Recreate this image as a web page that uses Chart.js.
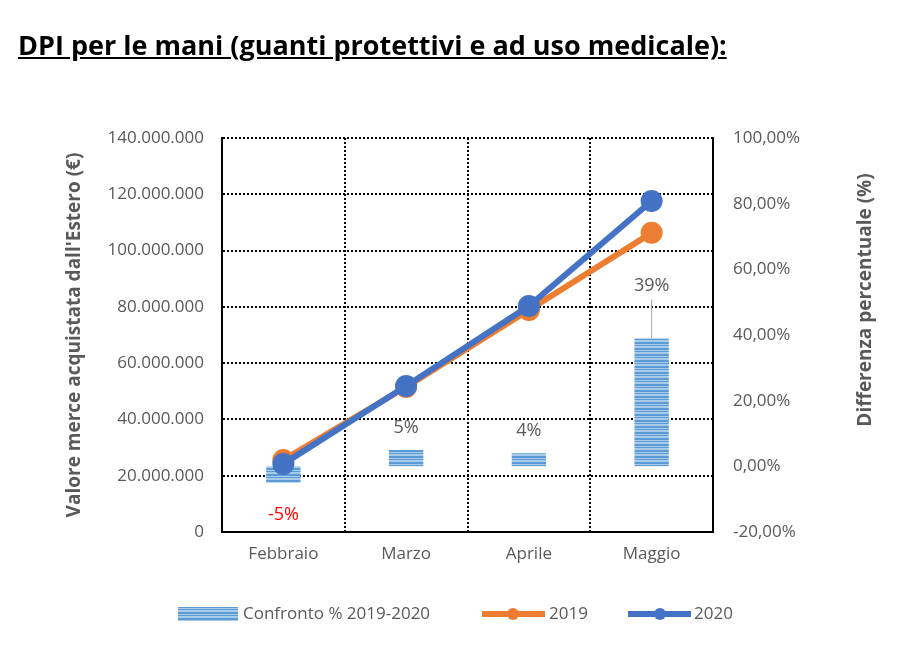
<!DOCTYPE html>
<html><head><meta charset="utf-8">
<script src="https://cdn.jsdelivr.net/npm/chart.js@4"></script>
<style>
body{margin:0;background:#fff;width:900px;height:666px;overflow:hidden;position:relative;font-family:"Open Sans","Liberation Sans",sans-serif}
#t{position:absolute;left:18px;top:26px;font-size:27px;font-weight:bold;text-decoration:underline;color:#000;white-space:nowrap}
#c{position:absolute;left:0;top:0}
</style></head><body>
<canvas id="c" width="900" height="666"></canvas>
<div id="t">DPI per le mani (guanti protettivi e ad uso medicale):</div>
<script>
const categories=["Febbraio","Marzo","Aprile","Maggio"];
const diffPct=[-5,5,4,39];
const diffLabels=["-5%","5%","4%","39%"];
const v2019=[25600000,51500000,78900000,106300000];
const v2020=[24200000,51900000,80300000,117600000];
const leftTicks=[0,20000000,40000000,60000000,80000000,100000000,120000000,140000000];

Chart.defaults.font.family='"Open Sans","Liberation Sans",sans-serif';
const pc=document.createElement('canvas');pc.width=6;pc.height=6;
const px=pc.getContext('2d');px.fillStyle='#a9cbea';px.fillRect(0,0,6,6);px.fillStyle='#5b9bd5';px.fillRect(0,0,6,2);px.fillRect(0,3,6,1);
const ctx0=document.getElementById('c').getContext('2d');
const pattern=ctx0.createPattern(pc,'repeat');
const grey='#595959';
const FF='"Open Sans","Liberation Sans",sans-serif';
const fmt=v=>v.toLocaleString('de-DE');
const fmtP=v=>v.toFixed(2).replace('.',',')+'%';

const plug={id:'p',afterDatasetsDraw(ch){
 const c=ch.ctx,m=ch.getDatasetMeta(0),ys=ch.scales.y1;
 c.save();c.font='18px '+FF;c.textAlign='center';c.textBaseline='middle';
 m.data.forEach((b,i)=>{
  const v=diffPct[i];let y;
  if(v<0){y=ys.getPixelForValue(v)+32;c.fillStyle='#ff0000';}
  else{c.fillStyle=grey;y=ys.getPixelForValue(v)-(i==3?52:22);}
  if(i==3){c.strokeStyle='#a6a6a6';c.lineWidth=1;c.beginPath();c.moveTo(b.x,y+13);c.lineTo(b.x,ys.getPixelForValue(v));c.stroke();}
  c.fillText(diffLabels[i],b.x,y);
 });
 c.restore();
},afterDraw(ch){
 const c=ch.ctx;c.save();
 c.fillStyle=pattern;c.fillRect(178,607,60,14);
 c.lineWidth=6;c.strokeStyle='#ed7d31';c.beginPath();c.moveTo(482,614);c.lineTo(545,614);c.stroke();
 c.fillStyle='#ed7d31';c.beginPath();c.arc(513,614,6,0,7);c.fill();
 c.strokeStyle='#4472c4';c.beginPath();c.moveTo(628,614);c.lineTo(691,614);c.stroke();
 c.fillStyle='#4472c4';c.beginPath();c.arc(660,614,6,0,7);c.fill();
 c.font='17px '+FF;c.fillStyle=grey;c.textBaseline='middle';
 c.fillText('Confronto % 2019-2020',243,614);c.fillText('2019',549,614);c.fillText('2020',694,614);
 c.font='bold 19px '+FF;c.textAlign='center';
 c.translate(75,335);c.rotate(-Math.PI/2);c.fillText("Valore merce acquistata dall'Estero (€)",0,0);
 c.setTransform(1,0,0,1,0,0);
 c.translate(866,300);c.rotate(-Math.PI/2);c.fillText('Differenza percentuale (%)',0,0);
 c.restore();
}};

new Chart(ctx0,{
 data:{labels:categories,datasets:[
  {type:'bar',label:'Confronto % 2019-2020',data:diffPct,yAxisID:'y1',backgroundColor:pattern,barPercentage:0.28,categoryPercentage:1,order:3},
  {type:'line',label:'2019',data:v2019,yAxisID:'y',borderColor:'#ed7d31',backgroundColor:'#ed7d31',borderWidth:6,pointRadius:8,pointHoverRadius:8,order:2},
  {type:'line',label:'2020',data:v2020,yAxisID:'y',borderColor:'#4472c4',backgroundColor:'#4472c4',borderWidth:6,pointRadius:8,pointHoverRadius:8,order:1}
 ]},
 options:{responsive:false,animation:false,
  layout:{padding:{top:138,left:0,right:0,bottom:0}},
  plugins:{legend:{display:false},tooltip:{enabled:false}},
  scales:{
   x:{grid:{color:'#000',lineWidth:2,borderDash:[2,2],drawTicks:false,offset:true},border:{display:true,color:'#000',width:2,dash:[2,2]},
      ticks:{color:grey,font:{size:17},padding:12},afterFit(s){s.height=134;}},
   y:{position:'left',min:0,max:140000000,afterBuildTicks(s){s.ticks=leftTicks.map(v=>({value:v}));},
      grid:{color:'#000',lineWidth:2,borderDash:[2,2],drawTicks:false},border:{display:true,color:'#000',width:2,dash:[2,2]},
      ticks:{color:grey,font:{size:17},padding:18,callback:v=>fmt(v)},
      afterFit(s){s.width=222;}},
   y1:{position:'right',min:-20,max:100,grid:{display:false,drawTicks:false},border:{display:true,color:'#000',width:2,dash:[2,2]},
      ticks:{stepSize:20,color:grey,font:{size:17},padding:20,callback:v=>fmtP(v)},
      afterFit(s){s.width=187;}}
  }},
 plugins:[plug]
});
</script></body></html>
